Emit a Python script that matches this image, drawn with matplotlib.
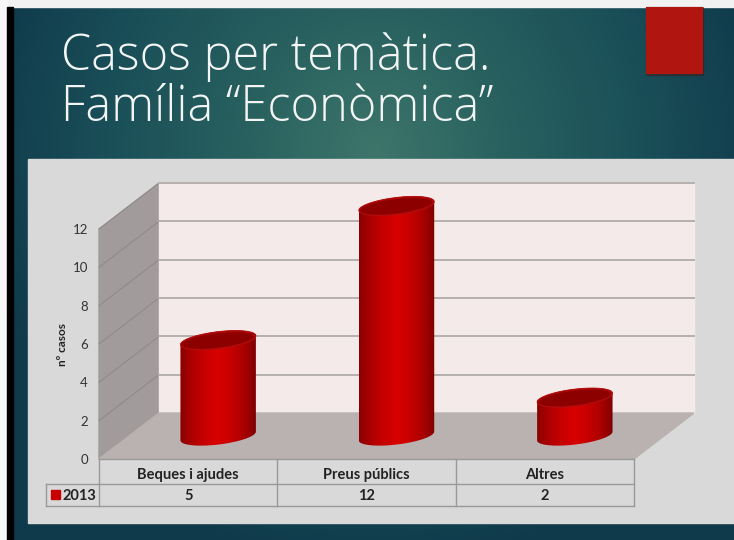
import numpy as np
import matplotlib
matplotlib.use('Agg')
import matplotlib.pyplot as plt
from matplotlib.colors import LinearSegmentedColormap
from matplotlib.patches import Polygon, Rectangle

categories = ['Beques i ajudes', 'Preus públics', 'Altres']
series_name = '2013'
values = [5, 12, 2]
y_ticks = [0, 2, 4, 6, 8, 10, 12]
y_label = 'nº casos'
title_lines = ['Casos per temàtica.', 'Família “Econòmica”']

W, H = 734, 540
fig = plt.figure(figsize=(W / 100, H / 100), dpi=100)

# pixel canvas for the slide and the 3d box
bg = fig.add_axes([0, 0, 1, 1])
bg.set_axis_off()

# slide background, teal glow fading to dark blue
yy, xx = np.mgrid[0:H, 0:W]
dist = np.clip(np.hypot((xx - 375) / 400, (yy - 150) / 420), 0, 1)
glow = LinearSegmentedColormap.from_list('glow', ['#3d756b', '#28605f', '#1a4f58', '#0f3a4b'])
bg.imshow(dist, cmap=glow, extent=[0, W, H, 0], aspect='auto', zorder=0)
bg.set_xlim(0, W)
bg.set_ylim(H, 0)

bg.add_patch(Rectangle((0, 0), W, 7, color='#f2f2f2', zorder=1))
bg.add_patch(Rectangle((0, 0), 7, H, color='#f7f7f7', zorder=1))
bg.add_patch(Rectangle((7, 7), 6, H, color='#000000', zorder=1))

# red tab
bg.add_patch(Rectangle((646, 7), 57, 68, color='#3a2020', alpha=0.5, zorder=1))
bg.add_patch(Rectangle((646, 7), 57, 67, color='#b01510', ec='none', zorder=2))

for line, y in zip(title_lines, [70, 121]):
    bg.text(61, y, line, color='#f2f5f4', fontsize=35, family='Open Sans', weight='light',
            ha='left', va='baseline', zorder=3)

# chart panel
bg.add_patch(Rectangle((28, 159), W - 28, 364, color='#d9d9d9', zorder=1))

# value axes, lying on the front plane of the 3d box
left, right, y0, y12 = 99, 634, 459, 229
ax = fig.add_axes([left / W, 1 - y0 / H, (right - left) / W, (y0 - y12) / H], zorder=2)
ax.patch.set_alpha(0)
ax.set_xlim(-0.5, len(categories) - 0.5)
ax.set_ylim(0, 12)
ax.set_xticks([])
ax.set_yticks(y_ticks)
ax.tick_params(axis='y', length=0, pad=8, labelsize=9.5, labelcolor='#333333')
for lab in ax.get_yticklabels():
    lab.set_family('Lato')
for s in ax.spines.values():
    s.set_visible(False)
ax.set_ylabel(y_label, fontsize=8.5, family='Lato', weight='bold', color='#222222', labelpad=3)
bg.set_zorder(1)


def px(x, v):
    # data position to canvas pixels
    return bg.transData.inverted().transform(ax.transData.transform((x, v)))


DX, DY = 60, -46  # depth of the box
wall_c = '#a19b9b'
grid_c = '#b5afae'
x0, x1 = -0.5, len(categories) - 0.5
fl, fb = px(x0, 0), px(x1, 0)
tl = px(x0, 12)
d = np.array([DX, DY])

bg.add_patch(Polygon([tl, tl + d, fl + d, fl], color=wall_c, zorder=2))
bg.add_patch(Polygon([tl + d, px(x1, 12) + d, fb + d, fl + d], color='#f5eaea', zorder=2))
bg.add_patch(Polygon([fl, fl + d, fb + d, fb], color='#b9b2b1', zorder=2))

for t in y_ticks[1:]:
    a = px(x0, t)
    b = px(x1, t) + d
    bg.plot([a[0], a[0] + DX], [a[1], a[1] + DY], color='#8e8888', lw=0.7, zorder=3)
    bg.plot([a[0] + DX, b[0]], [b[1], b[1]], color=grid_c, lw=1.4, zorder=3)

# cylinders stand halfway into the box
body_cm = LinearSegmentedColormap.from_list(
    'body', ['#8a0000', '#b00000', '#c80000', '#d80000', '#c80000', '#ac0000', '#800000'])
A, B, TILT = 38, 8.5, np.radians(-7)


def ellipse(cx, cy, t, a=A, b=B):
    ex, ey = a * np.cos(t), b * np.sin(t)
    return np.column_stack([cx + ex * np.cos(TILT) - ey * np.sin(TILT),
                            cy + ex * np.sin(TILT) + ey * np.cos(TILT)])


full = np.linspace(0, 2 * np.pi, 120)
lower = np.linspace(np.pi, 0, 80)
grad = np.linspace(0, 1, 200).reshape(1, -1)

for i, v in enumerate(values):
    bx, by = px(i, 0) + d / 2
    tx, ty = px(i, v) + d / 2
    outline = np.vstack([ellipse(bx, by, lower),
                         ellipse(tx, ty, np.linspace(0, np.pi, 80) * -1)])
    clip = Polygon(outline, closed=True, transform=bg.transData, fc='none', ec='none')
    bg.add_patch(clip)
    im = bg.imshow(grad, cmap=body_cm, extent=[bx - A, bx + A, by + B + 3, ty - B - 3],
                   aspect='auto', zorder=4)
    im.set_clip_path(clip)
    bg.add_patch(Polygon(ellipse(tx, ty, full), closed=True, fc='#a90505', ec='#b01010', lw=0.6, zorder=5))
    bg.add_patch(Polygon(ellipse(tx - 0.5, ty + 0.3, full, A - 2, B - 1.5), closed=True, fc='#8c0000', ec='none', zorder=6))
bg.set_xlim(0, W)
bg.set_ylim(H, 0)

# data table under the box
table_c = '#999999'
row1, row2, row3 = y0, 484, 506
key_left = 46
edges = [px(x0 + i, 0)[0] for i in range(len(categories) + 1)]
bg.plot([left, right], [row1, row1], color=table_c, lw=1.0, zorder=3)
bg.plot([key_left, right], [row2, row2], color=table_c, lw=1.0, zorder=3)
bg.plot([key_left, right], [row3, row3], color=table_c, lw=1.0, zorder=3)
bg.plot([key_left, key_left], [row2, row3], color=table_c, lw=1.0, zorder=3)
for e in edges:
    bg.plot([e, e], [row1, row3], color=table_c, lw=1.0, zorder=3)

tkw = dict(family='Lato', weight='bold', color='#222222', ha='center', va='baseline', fontsize=10.5, zorder=4)
for i, (cat, v) in enumerate(zip(categories, values)):
    cx = px(i, 0)[0]
    bg.text(cx, row1 + 20, cat, **tkw)
    bg.text(cx, row2 + 16, str(v), **tkw)
bg.add_patch(Rectangle((51, 490), 9, 9, color='#c80000', zorder=4))
bg.text(79, row2 + 16, series_name, **tkw)

fig.savefig('out.png', dpi=100)
